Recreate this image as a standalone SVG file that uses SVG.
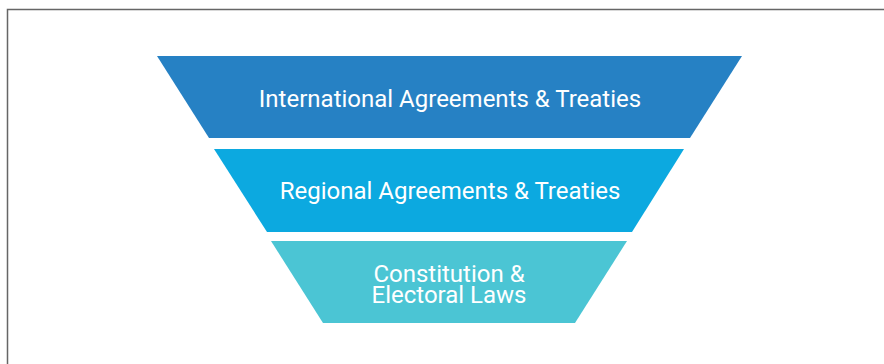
<svg xmlns="http://www.w3.org/2000/svg" width="884" height="364" viewBox="0 0 884 364">
<style>
.lbl{font-family:Roboto,"Liberation Sans",sans-serif;font-size:24px;fill:#ffffff;text-anchor:middle}
</style>
<rect x="0" y="0" width="884" height="364" fill="#ffffff"/>
<rect x="7.5" y="9.5" width="900" height="400" fill="none" stroke="#666666" stroke-width="1.5"/>
<g id="n1">
<polygon points="157,56 742,56 690,138 209,138" fill="#2681C4"/>
<text class="lbl" x="450" y="107">International Agreements &amp; Treaties</text>
</g>
<g id="n2">
<polygon points="214,149 684,149 632,232 267,232" fill="#0CA9E0"/>
<text class="lbl" x="450" y="199">Regional Agreements &amp; Treaties</text>
</g>
<g id="n3">
<polygon points="271,241 627,241 575,323 323,323" fill="#4BC5D4"/>
<text class="lbl" x="449" y="282">Constitution &amp;</text>
<text class="lbl" x="449" y="303">Electoral Laws</text>
</g>
<g id="connectors"></g>
</svg>
